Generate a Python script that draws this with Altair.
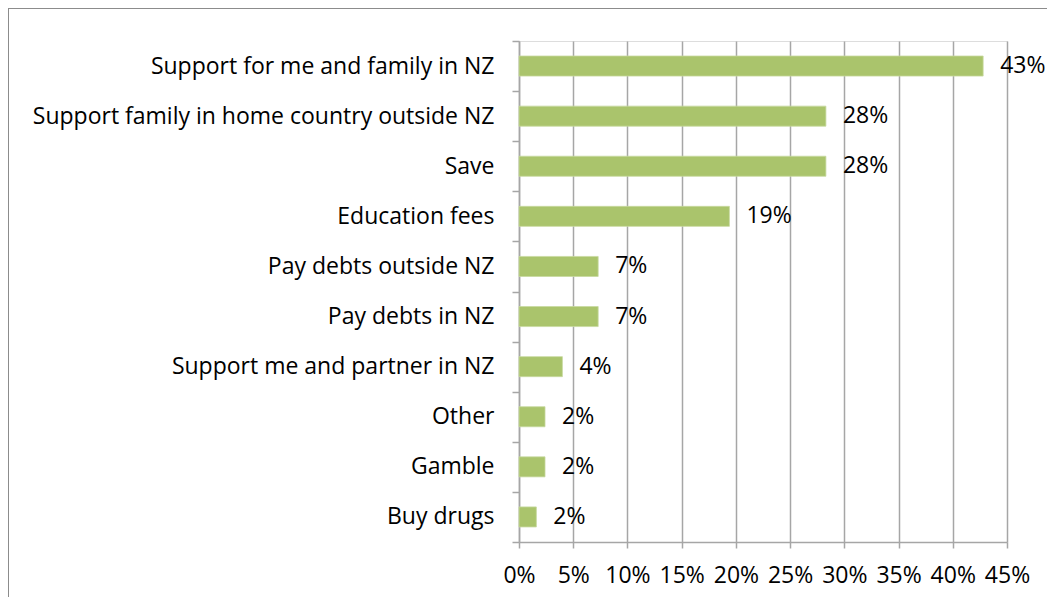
import altair as alt
import pandas as pd

categories = [
    "Support for me and family in NZ",
    "Support family in home country outside NZ",
    "Save",
    "Education fees",
    "Pay debts outside NZ",
    "Pay debts in NZ",
    "Support me and partner in NZ",
    "Other",
    "Gamble",
    "Buy drugs",
]
values = [0.428, 0.283, 0.283, 0.194, 0.073, 0.073, 0.040, 0.024, 0.024, 0.016]
labels = ["43%", "28%", "28%", "19%", "7%", "7%", "4%", "2%", "2%", "2%"]

df = pd.DataFrame({"category": categories, "value": values, "label": labels})

FONT = "Open Sans"
FS = 23
GRID = "#a6a6a6"
BAR = "#aac46c"

y_enc = alt.Y(
    "category:N",
    sort=categories,
    title=None,
    scale=alt.Scale(paddingInner=0, paddingOuter=0),
    axis=alt.Axis(
        tickBand="extent",
        labelFont=FONT,
        labelFontSize=FS,
        labelColor="#000000",
        labelPadding=18,
        tickSize=7,
        tickColor=GRID,
        tickWidth=1.5,
        domainColor=GRID,
        domainWidth=1.5,
        grid=False,
        labelLimit=600,
    ),
)

x_enc = alt.X(
    "value:Q",
    title=None,
    scale=alt.Scale(domain=[0, 0.45], nice=False),
    axis=alt.Axis(
        values=[0, 0.05, 0.10, 0.15, 0.20, 0.25, 0.30, 0.35, 0.40, 0.45],
        format=".0%",
        labelFont=FONT,
        labelFontSize=FS,
        labelColor="#000000",
        labelPadding=16,
        tickSize=6,
        tickColor=GRID,
        tickWidth=1.5,
        domainColor=GRID,
        domainWidth=1.5,
        grid=True,
        gridColor=GRID,
        gridWidth=1.5,
        labelFlush=False,
    ),
)

bars = alt.Chart(df).mark_bar(
    color=BAR, stroke="#c8d9a0", strokeWidth=0.8, height=alt.RelativeBandSize(0.4)
).encode(y=y_enc, x=x_enc)

text = alt.Chart(df).mark_text(
    align="left", baseline="middle", dx=17, font=FONT, fontSize=FS, color="#000000"
).encode(
    y=alt.Y("category:N", sort=categories),
    x=alt.X("value:Q"),
    text="label:N",
)

frame_top = alt.Chart(df).mark_rule(color="#8c8c8c", strokeWidth=2).encode(
    x=alt.value(-511), x2=alt.value(540), y=alt.value(-33)
)
frame_left = alt.Chart(df).mark_rule(color="#8c8c8c", strokeWidth=2).encode(
    x=alt.value(-511), y=alt.value(-33), y2=alt.value(560)
)

chart = (
    alt.layer(bars, text, frame_top, frame_left)
    .properties(
        width=488,
        height=501,
        autosize=alt.AutoSizeParams(type="none"),
        padding={"left": 511, "top": 33, "right": 40, "bottom": 55},
    )
    .configure_view(stroke=None)
    .configure(background="#ffffff")
)

chart.save("out.html", embed_options={"renderer": "svg", "actions": False})
